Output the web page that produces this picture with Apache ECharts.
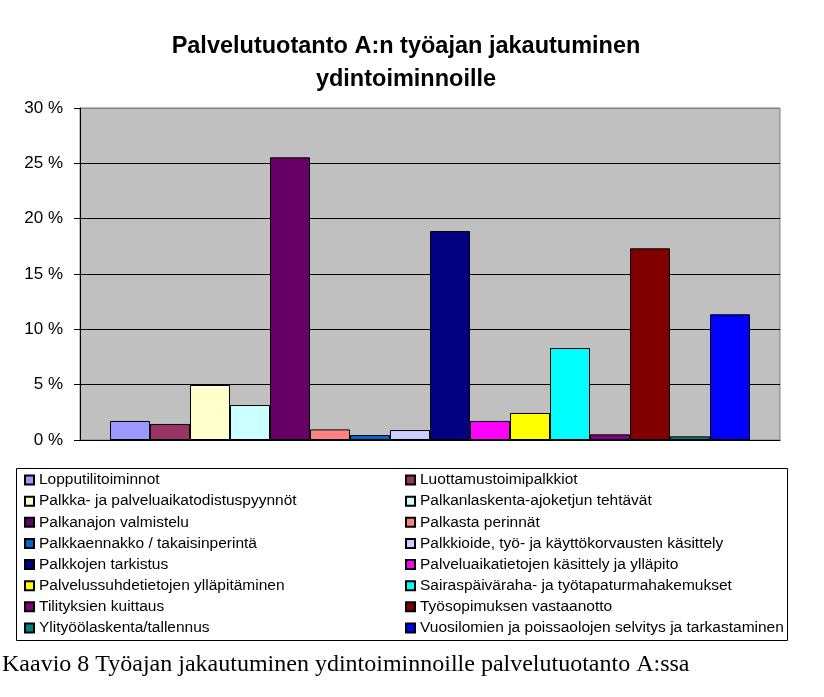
<!DOCTYPE html>
<html>
<head>
<meta charset="utf-8">
<script src="https://cdn.jsdelivr.net/npm/echarts@6/dist/echarts.min.js"></script>
<style>
  html, body { margin: 0; padding: 0; background: #fff; }
  #chart { width: 824px; height: 697px; }
</style>
</head>
<body>
<div id="chart"></div>
<script>
// Työajan jakautuminen (%), one bar per activity
const activities = [
  'Lopputilitoiminnot',
  'Luottamustoimipalkkiot',
  'Palkka- ja palveluaikatodistuspyynnöt',
  'Palkanlaskenta-ajoketjun tehtävät',
  'Palkanajon valmistelu',
  'Palkasta perinnät',
  'Palkkaennakko / takaisinperintä',
  'Palkkioide, työ- ja käyttökorvausten käsittely',
  'Palkkojen tarkistus',
  'Palveluaikatietojen käsittely ja ylläpito',
  'Palvelussuhdetietojen ylläpitäminen',
  'Sairaspäiväraha- ja työtapaturmahakemukset',
  'Tilityksien kuittaus',
  'Työsopimuksen vastaanotto',
  'Ylityöölaskenta/tallennus',
  'Vuosilomien ja poissaolojen selvitys ja tarkastaminen'
];
const shares = [1.72, 1.45, 4.97, 3.16, 25.54, 0.96, 0.45, 0.90, 18.88, 1.72, 2.44, 8.31, 0.51, 17.32, 0.33, 11.36];
const colors = ['#9999FF', '#993366', '#FFFFCC', '#CCFFFF', '#660066', '#FF8080', '#0066CC', '#CCCCFF',
                '#000080', '#FF00FF', '#FFFF00', '#00FFFF', '#800080', '#800000', '#008080', '#0000FF'];
const yTicks = [0, 5, 10, 15, 20, 25, 30];

const chart = echarts.init(document.getElementById('chart'), null, { renderer: 'canvas' });

const series = activities.map((name, i) => ({
  name: name,
  type: 'bar',
  data: [shares[i]],
  barWidth: 40,
  barGap: '0%',
  itemStyle: { color: colors[i], borderColor: '#000', borderWidth: 1 },
  emphasis: { disabled: true }
}));

const legendBase = {
  orient: 'vertical',
  padding: 0,
  itemWidth: 9,
  itemHeight: 9,
  itemGap: 0.14,
  icon: 'rect',
  selectedMode: false,
  textStyle: { fontFamily: 'Arial, "Liberation Sans", sans-serif', fontSize: 15.5, color: '#000', lineHeight: 21 }
};

chart.setOption({
  animation: false,
  color: colors,
  title: {
    text: 'Palvelutuotanto A:n työajan jakautuminen\nydintoiminnoille',
    left: 401,
    top: 25,
    textAlign: 'center',
    textStyle: { fontFamily: 'Arial, "Liberation Sans", sans-serif', fontSize: 23.5, fontWeight: 'bold', color: '#000', lineHeight: 33 }
  },
  grid: {
    left: 80, right: 44, top: 108, bottom: 257,
    show: true, backgroundColor: '#C0C0C0', borderColor: '#808080', borderWidth: 1
  },
  xAxis: {
    type: 'category',
    data: [''],
    axisTick: { show: false },
    axisLabel: { show: false },
    axisLine: { lineStyle: { color: '#000', width: 1 } }
  },
  yAxis: {
    type: 'value',
    min: yTicks[0],
    max: yTicks[yTicks.length - 1],
    interval: 5,
    axisLine: { show: true, lineStyle: { color: '#000', width: 1 } },
    axisTick: { show: true, length: 6, lineStyle: { color: '#000' } },
    axisLabel: {
      formatter: '{value} %', margin: 17,
      fontFamily: 'Arial, "Liberation Sans", sans-serif', fontSize: 17, color: '#000'
    },
    splitLine: { lineStyle: { color: ['#000', '#000', '#000', '#000', '#000', '#000', '#808080'], width: 1 } }
  },
  legend: [
    Object.assign({}, legendBase, { left: 24, top: 469.5, data: activities.filter((_, i) => i % 2 === 0) }),
    Object.assign({}, legendBase, { left: 405, top: 469.5, data: activities.filter((_, i) => i % 2 === 1) })
  ],
  graphic: [
    {
      type: 'rect', silent: true,
      shape: { x: 16.5, y: 468.5, width: 771, height: 172 },
      style: { fill: null, stroke: '#000', lineWidth: 1 }
    },
    {
      type: 'text', silent: true,
      style: {
        x: 2, y: 665,
        text: 'Kaavio 8 Työajan jakautuminen ydintoiminnoille palvelutuotanto A:ssa',
        font: '24px "Liberation Serif", "Times New Roman", serif', fill: '#000',
        textVerticalAlign: 'middle'
      }
    }
  ],
  series: series
});
</script>
</body>
</html>
